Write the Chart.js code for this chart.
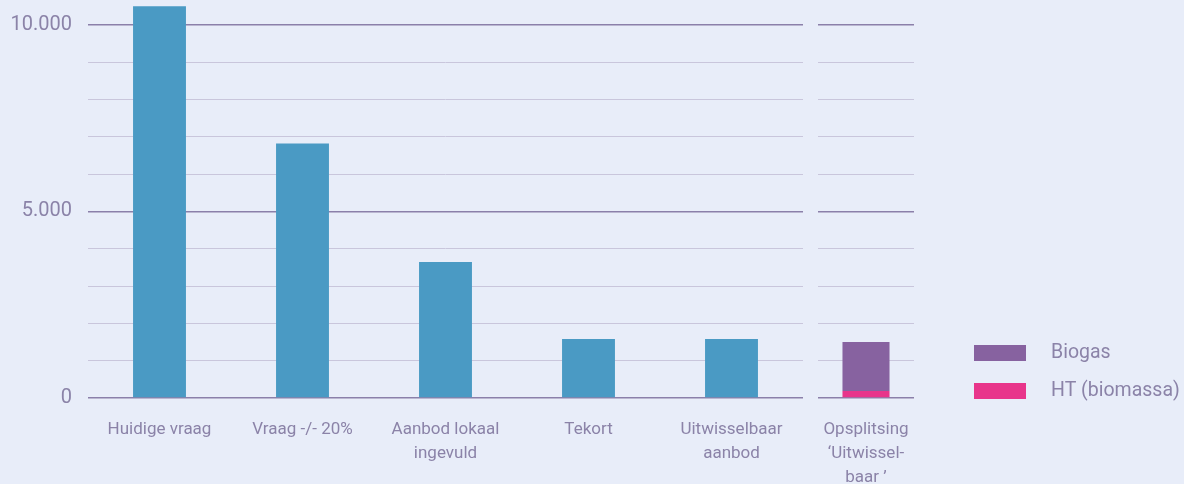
<!DOCTYPE html>
<html>
<head>
<meta charset="utf-8">
<script src="https://cdn.jsdelivr.net/npm/chart.js@4/dist/chart.umd.min.js"></script>
<style>
  html, body { margin: 0; padding: 0; background: #e8edf9; }
  #wrap { position: relative; width: 1184px; height: 484px; }
  canvas { position: absolute; top: 0; }
  #mainChart { left: 0; }
  #splitChart { left: 810px; }
</style>
</head>
<body>
<div id="wrap">
  <canvas id="mainChart" width="810" height="484"></canvas>
  <canvas id="splitChart" width="374" height="484"></canvas>
</div>
<script>
const categories = ['Huidige vraag', 'Vraag -/- 20%', ['Aanbod lokaal', 'ingevuld'], 'Tekort', ['Uitwisselbaar', 'aanbod']];
const demandValues = [10490, 6820, 3640, 1580, 1580];

const splitCategory = [['Opsplitsing', '\u2018Uitwissel-', 'baar \u2019']];
const htValues = [190];
const biogasValues = [1310];

const gridValues = [0, 1000, 2000, 3000, 4000, 5000, 6000, 7000, 8000, 9000, 10000];
const tickLabels = { 0: '0', 5000: '5.000', 10000: '10.000' };

const textColor = '#8b83a8';
const majorGrid = '#8b80aa';
const minorGrid = '#c9c6dc';
const blue = '#4a9ac4';
const purple = '#8762a0';
const pink = '#e8358b';

Chart.defaults.font.family = 'Roboto, "Open Sans", sans-serif';
Chart.defaults.color = textColor;

const yScale = (showTicks) => ({
  min: 0,
  max: 10500,
  border: { display: false },
  grid: {
    drawTicks: false,
    color: c => (c.tick.value % 5000 === 0 ? majorGrid : minorGrid),
    lineWidth: c => (c.tick.value % 5000 === 0 ? 1.5 : 1)
  },
  ticks: {
    display: showTicks,
    padding: 16,
    font: { size: 20 },
    callback: v => tickLabels[v] ?? ''
  },
  afterBuildTicks: s => { s.ticks = gridValues.map(v => ({ value: v })); },
  afterFit: s => { s.width = showTicks ? 88 : 0; s.paddingTop = 0; s.paddingBottom = 0; }
});

const xScale = {
  border: { display: false },
  grid: { display: false, drawTicks: false },
  ticks: { padding: 20, maxRotation: 0, autoSkip: false, font: { size: 17, lineHeight: 1.4 } },
  afterFit: s => { s.height = 86; s.paddingLeft = 0; s.paddingRight = 0; }
};

new Chart(document.getElementById('mainChart'), {
  type: 'bar',
  data: {
    labels: categories,
    datasets: [{ label: 'Vraag', data: demandValues, backgroundColor: blue, categoryPercentage: 1, barPercentage: 0.37 }]
  },
  options: {
    responsive: false,
    animation: false,
    layout: { padding: { top: 6, right: 7 } },
    plugins: { legend: { display: false }, tooltip: { enabled: false } },
    scales: { x: xScale, y: yScale(true) }
  }
});

// legend drawn next to the split bar, Biogas first
const sideLegend = {
  id: 'sideLegend',
  afterDraw(chart) {
    const { ctx, chartArea } = chart;
    const items = chart.data.datasets.slice().reverse();
    const x = chartArea.right + 60;
    ctx.save();
    ctx.font = '19.5px Roboto, "Open Sans", sans-serif';
    ctx.textBaseline = 'middle';
    items.forEach((ds, i) => {
      const cy = chartArea.bottom - 45 + i * 38;
      ctx.fillStyle = ds.backgroundColor;
      ctx.fillRect(x, cy - 8, 52, 16);
      ctx.fillStyle = textColor;
      ctx.fillText(ds.label, x + 77, cy);
    });
    ctx.restore();
  }
};

new Chart(document.getElementById('splitChart'), {
  type: 'bar',
  data: {
    labels: splitCategory,
    datasets: [
      { label: 'HT (biomassa)', data: htValues, backgroundColor: pink, categoryPercentage: 1, barPercentage: 0.49 },
      { label: 'Biogas', data: biogasValues, backgroundColor: purple, categoryPercentage: 1, barPercentage: 0.49 }
    ]
  },
  options: {
    responsive: false,
    animation: false,
    layout: { padding: { top: 6, left: 8, right: 270 } },
    plugins: { legend: { display: false }, tooltip: { enabled: false } },
    scales: {
      x: { ...xScale, stacked: true },
      y: { ...yScale(false), stacked: true }
    }
  },
  plugins: [sideLegend]
});
</script>
</body>
</html>
